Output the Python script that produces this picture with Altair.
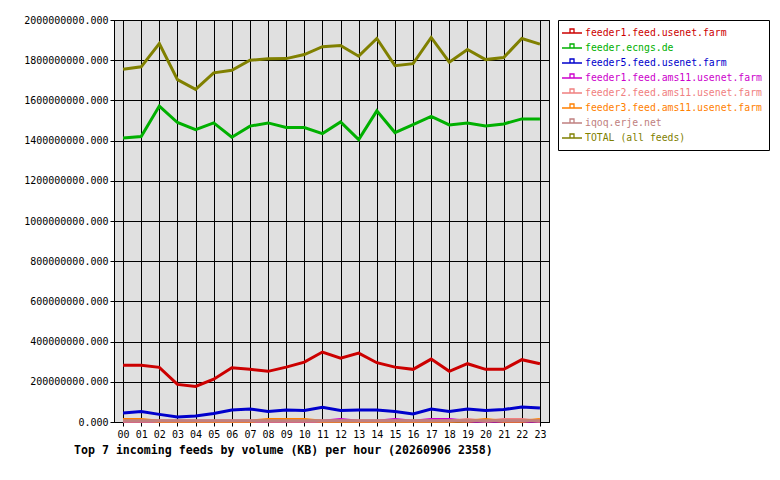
import altair as alt
import pandas as pd

hours = [f"{h:02d}" for h in range(24)]

feeds = [
    "feeder1.feed.usenet.farm",
    "feeder.ecngs.de",
    "feeder5.feed.usenet.farm",
    "feeder1.feed.ams11.usenet.farm",
    "feeder2.feed.ams11.usenet.farm",
    "feeder3.feed.ams11.usenet.farm",
    "iqoq.erje.net",
    "TOTAL (all feeds)",
]
colors = ["#cc0000", "#00b000", "#0000cc", "#cc00cc",
          "#f08080", "#ff8000", "#c08080", "#808000"]

# values in millions of KB
feeder1 = [282, 282, 272, 187, 177, 213, 270, 262, 252, 273, 298, 348,
           318, 343, 295, 273, 262, 313, 252, 290, 262, 262, 310, 290]
ecngs = [1413, 1420, 1572, 1490, 1455, 1488, 1417, 1472, 1488, 1465, 1465, 1435,
         1493, 1405, 1548, 1440, 1480, 1520, 1478, 1487, 1473, 1483, 1508, 1508]
feeder5 = [45, 52, 38, 25, 30, 42, 60, 65, 52, 60, 57, 73,
           57, 60, 60, 52, 40, 65, 52, 65, 57, 62, 75, 70]
ams11_1 = [4, 4, 4, 4, 4, 4, 4, 4, 4, 4, 4, 4,
           12, 4, 4, 12, 4, 12, 12, 4, 4, 4, 4, 4]
ams11_2 = [4, 4, 4, 4, 4, 4, 4, 4, 4, 4, 4, 4,
           4, 4, 4, 4, 4, 4, 4, 12, 4, 12, 12, 4]
ams11_3 = [12, 12, 4, 4, 4, 4, 4, 4, 12, 12, 12, 4,
           4, 4, 4, 4, 4, 4, 4, 4, 12, 4, 4, 12]
iqoq = [6] * 24
total = [1755, 1767, 1883, 1703, 1655, 1737, 1750, 1800, 1807, 1808, 1828, 1867,
         1873, 1820, 1908, 1773, 1783, 1913, 1790, 1853, 1803, 1813, 1908, 1880]

series = [feeder1, ecngs, feeder5, ams11_1, ams11_2, ams11_3, iqoq, total]

rows = []
for order, (name, vals) in enumerate(zip(feeds, series)):
    for h, v in zip(hours, vals):
        rows.append({"feed": name, "hour": h, "kb": v * 1e6, "order": order})
df = pd.DataFrame(rows)

MONO = "DejaVu Sans Mono"

chart = alt.Chart(df).mark_line(strokeWidth=3, strokeJoin="miter").encode(
    x=alt.X("hour:O", sort=hours, title=None,
            scale=alt.Scale(type="point", padding=0.5),
            axis=alt.Axis(labelAngle=0, grid=True, tickSize=4, labelPadding=3)),
    y=alt.Y("kb:Q", title=None,
            scale=alt.Scale(domain=[0, 2e9], nice=False),
            axis=alt.Axis(values=[i * 2e8 for i in range(11)], format=".3f",
                          grid=True, tickSize=4, labelPadding=2)),
    color=alt.Color("feed:N", sort=feeds,
                    scale=alt.Scale(domain=feeds, range=colors),
                    legend=alt.Legend(
                        title=None, orient="none", legendX=444, legendY=0,
                        symbolType="M-1.8,0H2.2M-0.2,0V-0.8H0.6V0",
                        symbolSize=100, symbolStrokeWidth=1.3,
                        symbolStrokeColor={"expr": "scale('color', datum.value)"},
                        labelOffset=8, rowPadding=3,
                        padding=7, strokeColor="black", fillColor="white",
                        labelFont=MONO, labelFontSize=9.8, labelLimit=400,
                        labelColor={"expr": "scale('color', datum.value)"})),
    order="order:Q",
    detail="feed:N",
).properties(
    width=435,
    height=402,
    padding={"left": 106, "top": 12, "right": 223, "bottom": 50},
    autosize=alt.AutoSizeParams(type="none"),
    title=alt.TitleParams(
        "Top 7 incoming feeds by volume (KB) per hour (20260906 2358)",
        orient="bottom", anchor="start", frame="group", dx=-40, offset=6,
        font=MONO, fontSize=11.6, fontWeight="bold", color="black"),
).configure(background="white").configure_view(
    fill="#e0e0e0", stroke="black", strokeWidth=1
).configure_axis(
    labelFont=MONO, labelFontSize=10, labelColor="black",
    domainColor="black", tickColor="black", gridColor="black",
    gridOpacity=1, gridWidth=1, domainWidth=1, tickWidth=1,
)

chart.save("out.html", embed_options={"renderer": "svg", "actions": False})
